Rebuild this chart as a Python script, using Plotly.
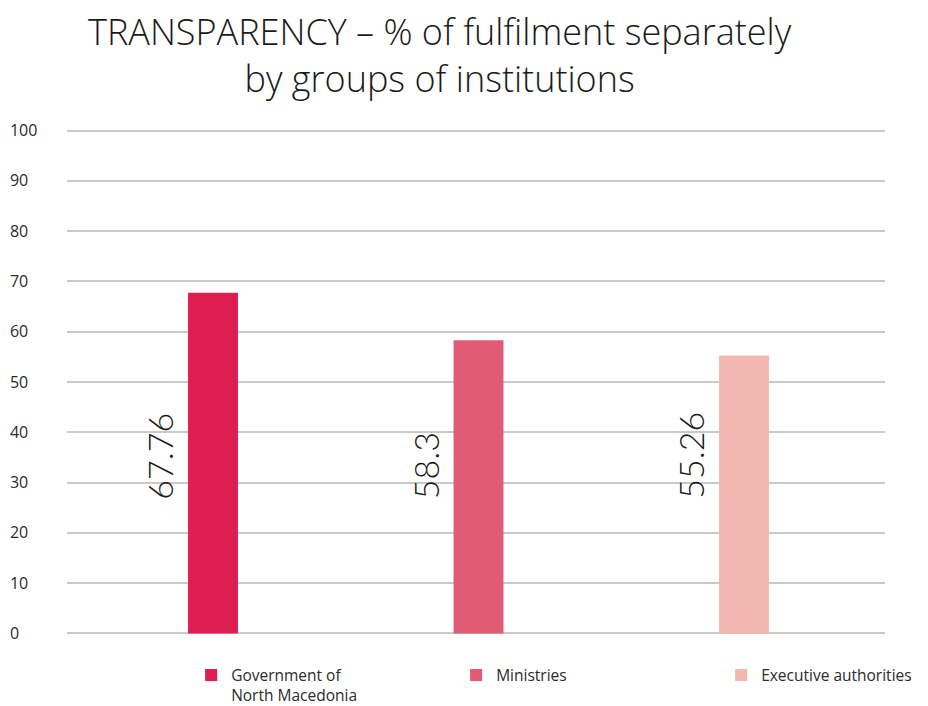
import plotly.graph_objects as go

# data
groups = ["Government of<br>North Macedonia", "Ministries", "Executive authorities"]
values = [67.76, 58.3, 55.26]
value_labels = ["67.76", "58.3", "55.26"]
colors = ["#DC1F50", "#E05B73", "#F2B8B0"]
y_ticks = [0, 10, 20, 30, 40, 50, 60, 70, 80, 90, 100]

FONT = "Open Sans, sans-serif"
TXT = "#2b2b2b"

fig = go.Figure()
for i, (name, v, col) in enumerate(zip(groups, values, colors)):
    fig.add_trace(go.Bar(
        x=[i], y=[v], name=name,
        marker=dict(color=col, line=dict(width=0)),
        width=0.188,
        hovertemplate=f"{name}: %{{y}}<extra></extra>",
    ))
    # rotated value label to the left of each bar
    fig.add_annotation(
        x=i, y=26.3, xref="x", yref="y",
        text=value_labels[i], showarrow=False,
        textangle=-90, xanchor="center", yanchor="bottom",
        xshift=-53,
        font=dict(family="Lato, sans-serif", size=34, color="#1a1a1a", weight=300),
    )

# the page body adds an 8px offset, margins compensate for it
fig.update_layout(
    width=928, height=706,
    margin=dict(l=2, r=51, t=120, b=78, autoexpand=False),
    paper_bgcolor="white", plot_bgcolor="white",
    barmode="overlay",
    font=dict(family=FONT, size=16, color=TXT),
    title=dict(
        text="TRANSPARENCY – % of fulfilment separately<br>by groups of institutions",
        x=0.491, xanchor="center", xref="paper",
        y=0.948, yanchor="middle", yref="container",
        font=dict(family=FONT, size=36, color="#1a1a1a", weight=300),
    ),
    xaxis=dict(
        domain=[0.0651, 1], range=[-0.55, 2.531],
        showticklabels=False, showgrid=False, zeroline=False,
        showline=False, fixedrange=True,
    ),
    yaxis=dict(
        range=[-0.5, 100.5], tickvals=y_ticks,
        ticklabelposition="inside", ticklabelstandoff=-60,
        ticklabeloverflow="allow",
        showgrid=True, gridcolor="#C9C9C9", gridwidth=1.5,
        zeroline=False, showline=False, ticks="", automargin=False,
        tickfont=dict(family=FONT, size=16, color=TXT),
    ),
    showlegend=True,
    legend=dict(
        orientation="h", x=0.207, xanchor="left", y=-0.044, yanchor="top",
        entrywidth=220, entrywidthmode="pixels",
        font=dict(family=FONT, size=15.5, color=TXT),
        itemwidth=30, valign="top", traceorder="normal",
    ),
)

fig.write_html("out.html")
